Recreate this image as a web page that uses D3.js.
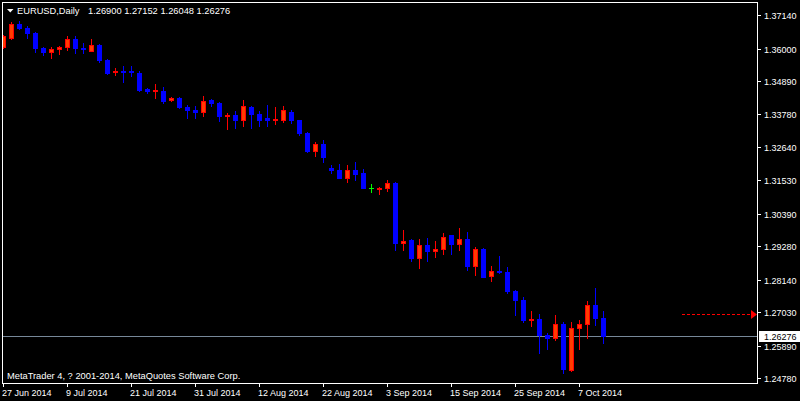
<!DOCTYPE html>
<html>
<head>
<meta charset="utf-8">
<script src="https://cdn.jsdelivr.net/npm/d3@7"></script>
<style>
  html, body { margin: 0; padding: 0; background: #000; }
  svg { display: block; }
  text { font-family: "Liberation Sans", Arial, sans-serif; font-size: 9px; fill: #fff; }
  text.big { font-size: 9.3px; }
</style>
</head>
<body>
<svg id="chart" width="800" height="401"></svg>
<script>
// ---- Data (EURUSD Daily, 27 Jun 2014 .. 10 Oct 2014) ----
const symbol = "EURUSD,Daily";
const opens = [
  1.36129,1.36435,1.36912,1.36776,1.36605,1.36095,1.35958,1.36061,1.36129,1.36401,
  1.36095,1.35992,1.36197,1.35686,1.35277,1.35311,1.35311,1.35243,1.34699,1.34630,
  1.34630,1.34324,1.34392,1.34086,1.33984,1.33915,1.34324,1.34222,1.33779,1.33813,
  1.33643,1.34086,1.33847,1.33711,1.33643,1.33643,1.33915,1.33643,1.33200,1.32587,
  1.32826,1.32009,1.31941,1.31668,1.31941,1.31838,1.31328,1.31294,1.31328,1.31498,
  1.29455,1.29557,1.28944,1.29387,1.29182,1.29251,1.29727,1.29421,1.29591,1.28672,
  1.29251,1.28331,1.28501,1.28467,1.27820,1.27514,1.26833,1.26867,1.26322,1.26220,
  1.26697,1.25131,1.26561,1.26697,1.27344,1.26900
];
const highs = [
  1.36537,1.36980,1.37014,1.36844,1.36639,1.36129,1.36129,1.36163,1.36503,1.36503,
  1.36265,1.36401,1.36231,1.35720,1.35414,1.35482,1.35482,1.35311,1.34733,1.34869,
  1.34767,1.34426,1.34426,1.34154,1.34120,1.34460,1.34358,1.34256,1.33881,1.33949,
  1.34324,1.34120,1.33949,1.34154,1.34086,1.34120,1.33984,1.33660,1.33234,1.32894,
  1.32962,1.32111,1.32145,1.32111,1.32213,1.31975,1.31464,1.31362,1.31600,1.31532,
  1.29898,1.29591,1.29591,1.29625,1.29523,1.29795,1.29740,1.29966,1.29829,1.29319,
  1.29285,1.28672,1.29012,1.28638,1.27854,1.27616,1.27139,1.27037,1.26390,1.27003,
  1.26765,1.26765,1.26833,1.27480,1.27923,1.27152
];
const lows = [
  1.36095,1.36401,1.36742,1.36435,1.35958,1.35856,1.35754,1.35890,1.36027,1.35924,
  1.35924,1.35992,1.35618,1.35209,1.35175,1.34937,1.35141,1.34630,1.34562,1.34392,
  1.34222,1.34290,1.34052,1.33711,1.33711,1.33779,1.34120,1.33609,1.33337,1.33371,
  1.33439,1.33371,1.33439,1.33439,1.33507,1.33575,1.33541,1.33132,1.32553,1.32417,
  1.32213,1.31838,1.31668,1.31532,1.31600,1.31328,1.31191,1.31123,1.31225,1.29217,
  1.29217,1.28842,1.28604,1.28842,1.28978,1.29080,1.29080,1.29217,1.28536,1.28365,
  1.28297,1.28161,1.28433,1.27752,1.27003,1.26765,1.26629,1.25709,1.25846,1.26152,
  1.25028,1.25096,1.25846,1.26220,1.26663,1.26048
];
const closes = [
  1.36503,1.36912,1.36776,1.36605,1.36095,1.35958,1.36061,1.36129,1.36401,1.36095,
  1.36061,1.36197,1.35686,1.35243,1.35311,1.35277,1.35277,1.34665,1.34630,1.34665,
  1.34290,1.34392,1.34086,1.33984,1.33915,1.34290,1.34222,1.33779,1.33813,1.33643,
  1.34120,1.33847,1.33643,1.33643,1.33677,1.33984,1.33643,1.33200,1.32587,1.32826,
  1.32383,1.31941,1.31668,1.31941,1.31804,1.31328,1.31328,1.31328,1.31498,1.29455,
  1.29523,1.28944,1.29387,1.29182,1.29251,1.29659,1.29421,1.29591,1.28672,1.29251,
  1.28297,1.28501,1.28467,1.27820,1.27514,1.26833,1.26867,1.26322,1.26220,1.26697,
  1.25165,1.26561,1.26697,1.27344,1.26901,1.26276
];
const timeTickIndex = [0, 8, 16, 24, 32, 40, 48, 56, 64, 72];
const timeTickLabels = ["27 Jun 2014","9 Jul 2014","21 Jul 2014","31 Jul 2014","12 Aug 2014",
                        "22 Aug 2014","3 Sep 2014","15 Sep 2014","25 Sep 2014","7 Oct 2014"];
const priceTicks = [1.37140,1.36000,1.34890,1.33780,1.32640,1.31530,1.30390,1.29280,1.28140,1.27030,1.25890,1.24780];
const alertLevel = 1.27030;
const copyright = "MetaTrader 4, ? 2001-2014, MetaQuotes Software Corp.";

// ---- Layout ----
const svg = d3.select("#chart");
const W = 800, H = 401;
const plotL = 3, plotR = 757, plotT = 3, plotB = 383;
const N = opens.length;
const bars = d3.range(N).map(i => ({i, o: opens[i], h: highs[i], l: lows[i], c: closes[i]}));

svg.append("rect").attr("width", W).attr("height", H).attr("fill", "#000");

const x = d3.scaleBand().domain(d3.range(N)).range([-0.5, -0.5 + 8 * N]).padding(0);
const cx = i => x(i) + x.bandwidth() / 2;
const y = d3.scaleLinear().domain([1.24780, 1.37140]).range([380.3, 17.3]);
const ry = v => Math.round(y(v));

const BULL_LINE = "#ff0000", BULL_FILL = "#ff3c00", BEAR = "#0000ff", DOJI = "#00ff00";

svg.append("defs").append("clipPath").attr("id", "plot")
  .append("rect").attr("x", plotL).attr("y", plotT).attr("width", plotR - plotL).attr("height", plotB - plotT);

const plot = svg.append("g").attr("clip-path", "url(#plot)").attr("shape-rendering", "crispEdges");

// current price line (bid)
const last = bars[N - 1];
plot.append("line")
  .attr("x1", plotL).attr("x2", plotR)
  .attr("y1", ry(last.c) + 0.5).attr("y2", ry(last.c) + 0.5)
  .attr("stroke", "#778899").attr("stroke-width", 1);

const colorOf = d => d.c > d.o ? BULL_LINE : (d.c < d.o ? BEAR : DOJI);

const g = plot.selectAll("g.bar").data(bars).join("g").attr("class", "bar");
// wicks
g.append("rect")
  .attr("x", d => Math.floor(cx(d.i)))
  .attr("width", 1)
  .attr("y", d => ry(d.h))
  .attr("height", d => ry(d.l) - ry(d.h) + 1)
  .attr("fill", colorOf);
// bodies
g.append("rect")
  .attr("x", d => Math.floor(cx(d.i)) - 2)
  .attr("width", 5)
  .attr("y", d => ry(Math.max(d.o, d.c)))
  .attr("height", d => ry(Math.min(d.o, d.c)) - ry(Math.max(d.o, d.c)) + 1)
  .attr("fill", colorOf);
// bull inner fill
g.filter(d => d.c > d.o && ry(d.o) - ry(d.c) >= 2)
  .append("rect")
  .attr("x", d => Math.floor(cx(d.i)) - 1)
  .attr("width", 3)
  .attr("y", d => ry(d.c) + 1)
  .attr("height", d => ry(d.o) - ry(d.c) - 1)
  .attr("fill", BULL_FILL);

// alert dashed arrow
const ay = ry(alertLevel) + 0.5;
plot.append("line")
  .attr("x1", 682).attr("x2", 751).attr("y1", ay).attr("y2", ay)
  .attr("stroke", "#ff0000").attr("stroke-width", 1).attr("stroke-dasharray", "3,2");
plot.append("path")
  .attr("d", `M751,${ay - 4.5} L757,${ay} L751,${ay + 4.5} Z`)
  .attr("fill", "#ff0000").attr("shape-rendering", "auto");

// frame
svg.append("rect")
  .attr("x", 2.5).attr("y", 2.5).attr("width", plotR - 2.5).attr("height", plotB - 2.5)
  .attr("fill", "none").attr("stroke", "#fff").attr("stroke-width", 1)
  .attr("shape-rendering", "crispEdges");

// price axis
const pa = svg.append("g").attr("shape-rendering", "crispEdges");
priceTicks.forEach(v => {
  const ty = Math.floor(y(v) - 1.5) + 0.5;
  pa.append("line").attr("x1", 757).attr("x2", 761).attr("y1", ty).attr("y2", ty)
    .attr("stroke", "#fff");
  pa.append("text").attr("x", 764).attr("y", ty + 3.8).text(d3.format(".5f")(v));
});

// current price label
const ly = ry(last.c);
svg.append("rect").attr("x", 759).attr("y", ly - 5).attr("width", 41).attr("height", 11)
  .attr("fill", "#fff");
svg.append("text").attr("x", 764).attr("y", ly + 3.8).style("fill", "#000")
  .text(d3.format(".5f")(last.c));

// time axis
const ta = svg.append("g").attr("shape-rendering", "crispEdges");
timeTickIndex.forEach((idx, k) => {
  const tx = Math.floor(cx(idx)) + 0.5;
  ta.append("line").attr("x1", tx).attr("x2", tx).attr("y1", 383).attr("y2", 387).attr("stroke", "#fff");
  ta.append("text").attr("x", tx - 1.5).attr("y", 396).text(timeTickLabels[k]);
});

// header
svg.append("path").attr("d", "M7,9 L13.5,9 L10.25,12.5 Z").attr("fill", "#fff");
svg.append("text").attr("class", "big").attr("x", 17).attr("y", 14).text(symbol);
svg.append("text").attr("class", "big").attr("x", 88).attr("y", 14)
  .text([last.o, last.h, last.l, last.c].map(d3.format(".5f")).join(" "));

// copyright
svg.append("text").attr("class", "big").attr("x", 7).attr("y", 379).text(copyright);
</script>
</body>
</html>
